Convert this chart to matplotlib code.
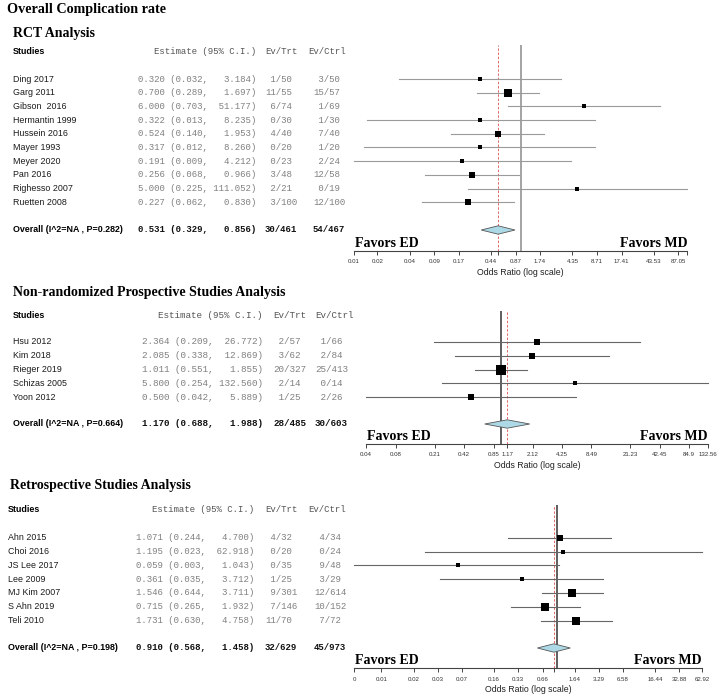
import matplotlib
matplotlib.use('Agg')
import matplotlib.pyplot as plt
from matplotlib.patches import Polygon
from matplotlib.ticker import NullLocator

# ---------------- data ----------------
rct_studies = ["Ding 2017", "Garg 2011", "Gibson  2016", "Hermantin 1999", "Hussein 2016",
               "Mayer 1993", "Meyer 2020", "Pan 2016", "Righesso 2007", "Ruetten 2008"]
rct_est = [0.320, 0.700, 6.000, 0.322, 0.524, 0.317, 0.191, 0.256, 5.000, 0.227]
rct_lo = [0.032, 0.289, 0.703, 0.013, 0.140, 0.012, 0.009, 0.068, 0.225, 0.062]
rct_hi = [3.184, 1.697, 51.177, 8.235, 1.953, 8.260, 4.212, 0.966, 111.052, 0.830]
rct_trt = ["1/50", "11/55", "6/74", "0/30", "4/40", "0/20", "0/23", "3/48", "2/21", "3/100"]
rct_ctrl = ["3/50", "15/57", "1/69", "1/30", "7/40", "1/20", "2/24", "12/58", "0/19", "12/100"]
rct_weight = [5, 8, 5, 4.3, 6.3, 4.3, 4, 6, 4.5, 6.3]
rct_overall = [0.531, 0.329, 0.856]
rct_overall_ev = ["30/461", "54/467"]
rct_overall_label = "Overall (I^2=NA , P=0.282)"
rct_tick_vals = [0.009, 0.0174, 0.0435, 0.087, 0.174, 0.435, 0.531, 0.87, 1.74, 4.35, 8.71,
                 17.41, 43.53, 87.05, 111.052]
rct_tick_labels = ["0.01", "0.02", "0.04", "0.09", "0.17", "0.44", "", "0.87", "1.74", "4.35",
                   "8.71", "17.41", "43.53", "87.05", ""]

pro_studies = ["Hsu 2012", "Kim 2018", "Rieger 2019", "Schizas 2005", "Yoon 2012"]
pro_est = [2.364, 2.085, 1.011, 5.800, 0.500]
pro_lo = [0.209, 0.338, 0.551, 0.254, 0.042]
pro_hi = [26.772, 12.869, 1.855, 132.560, 5.889]
pro_trt = ["2/57", "3/62", "20/327", "2/14", "1/25"]
pro_ctrl = ["1/66", "2/84", "25/413", "0/14", "2/26"]
pro_weight = [5.3, 6, 10.7, 4.7, 5.3]
pro_overall = [1.170, 0.688, 1.988]
pro_overall_ev = ["28/485", "30/603"]
pro_overall_label = "Overall (I^2=NA , P=0.664)"
pro_tick_vals = [0.042, 0.0849, 0.212, 0.4245, 0.849, 1.17, 2.1225, 4.245, 8.49, 21.225,
                 42.45, 84.9, 132.56]
pro_tick_labels = ["0.04", "0.08", "0.21", "0.42", "0.85", "1.17", "2.12", "4.25", "8.49",
                   "21.23", "42.45", "84.9", "132.56"]

ret_studies = ["Ahn 2015", "Choi 2016", "JS Lee 2017", "Lee 2009", "MJ Kim 2007",
               "S Ahn 2019", "Teli 2010"]
ret_est = [1.071, 1.195, 0.059, 0.361, 1.546, 0.715, 1.731]
ret_lo = [0.244, 0.023, 0.003, 0.035, 0.644, 0.265, 0.630]
ret_hi = [4.700, 62.918, 1.043, 3.712, 3.711, 1.932, 4.758]
ret_trt = ["4/32", "0/20", "0/35", "1/25", "9/301", "7/146", "11/70"]
ret_ctrl = ["4/34", "0/24", "9/48", "3/29", "12/614", "10/152", "7/72"]
ret_weight = [6, 4, 4.3, 5, 8, 7.3, 7.3]
ret_overall = [0.910, 0.568, 1.458]
ret_overall_ev = ["32/629", "45/973"]
ret_overall_label = "Overall (I^2=NA , P=0.198)"
ret_tick_vals = [0.003, 0.00658, 0.01645, 0.0329, 0.0658, 0.1645, 0.329, 0.658, 0.910,
                 1.645, 3.29, 6.58, 16.45, 32.9, 62.918]
ret_tick_labels = ["0", "0.01", "0.02", "0.03", "0.07", "0.16", "0.33", "0.66", "",
                   "1.64", "3.29", "6.58", "16.44", "32.88", "62.92"]

main_title = "Overall Complication rate"
section_titles = ["RCT Analysis", "Non-randomized Prospective Studies Analysis",
                  "Retrospective Studies Analysis"]

# ---------------- layout ----------------
W, H = 720, 698
fig = plt.figure(figsize=(7.2, 6.98), dpi=100)
SERIF = 'Liberation Serif'
SANS = 'Liberation Sans'
MONO = 'Liberation Mono'


def T(x, y, s, **kw):
    kw.setdefault('va', 'center')
    fig.text(x / W, 1 - y / H, s, **kw)


T(7, 10, main_title, family=SERIF, weight='bold', fontsize=10.2)

layouts = [
    dict(title=(13, 33), header=52, row0=79, dy=13.7, overall=230, name_x=13,
         est_r=256, trt_x=265, ctrl_x=313, head_trt=265, head_ctrl=308, mono=6.5,
         ax_x=354, ax_x1=687, ax_top=45, ax_y=250.7, vcol='#8a8a8a', cicol='#9a9a9a'),
    dict(title=(13, 293), header=315, row0=341.7, dy=13.9, overall=424, name_x=13,
         est_r=263, trt_x=273, ctrl_x=315, head_trt=273, head_ctrl=315.5, mono=6.7,
         ax_x=366, ax_x1=708, ax_top=311, ax_y=443.5, vcol='#333333', cicol='#666666'),
    dict(title=(10, 486), header=510, row0=537.7, dy=13.8, overall=648, name_x=8,
         est_r=254, trt_x=265, ctrl_x=314, head_trt=265, head_ctrl=308, mono=6.5,
         ax_x=354, ax_x1=702, ax_top=505, ax_y=668, vcol='#333333', cicol='#666666'),
]

datasets = [
    (rct_studies, rct_est, rct_lo, rct_hi, rct_trt, rct_ctrl, rct_weight, rct_overall,
     rct_overall_ev, rct_overall_label, rct_tick_vals, rct_tick_labels),
    (pro_studies, pro_est, pro_lo, pro_hi, pro_trt, pro_ctrl, pro_weight, pro_overall,
     pro_overall_ev, pro_overall_label, pro_tick_vals, pro_tick_labels),
    (ret_studies, ret_est, ret_lo, ret_hi, ret_trt, ret_ctrl, ret_weight, ret_overall,
     ret_overall_ev, ret_overall_label, ret_tick_vals, ret_tick_labels),
]


def ev_fmt(s):
    a, b = s.split('/')
    return f"{a:>2}/{b}"


for L, D, stitle in zip(layouts, datasets, section_titles):
    studies, est, lo, hi, trt, ctrl, wts, ov, ov_ev, ov_lab, tv, tl = D
    T(L['title'][0], L['title'][1], stitle, family=SERIF, weight='bold', fontsize=10)
    # header
    T(L['name_x'], L['header'], "Studies", family=SANS, weight='bold', fontsize=6.4)
    T(L['est_r'], L['header'], "Estimate (95% C.I.)", family=MONO, fontsize=L['mono'],
      ha='right', color='#555555')
    T(L['head_trt'], L['header'], "Ev/Trt", family=MONO, fontsize=L['mono'], color='#555555')
    T(L['head_ctrl'], L['header'], "Ev/Ctrl", family=MONO, fontsize=L['mono'], color='#555555')

    ys = [L['row0'] + i * L['dy'] for i in range(len(studies))]
    for y, nm, e, l, h, a, c in zip(ys, studies, est, lo, hi, trt, ctrl):
        T(L['name_x'], y, nm, family=SANS, fontsize=6.4, color='#1a1a1a')
        T(L['est_r'], y, f"{e:.3f} ({l:.3f}, {h:7.3f})", family=MONO,
          fontsize=L['mono'], ha='right', color='#808080')
        T(L['trt_x'], y, ev_fmt(a), family=MONO, fontsize=L['mono'], color='#808080')
        T(L['ctrl_x'], y, ev_fmt(c), family=MONO, fontsize=L['mono'], color='#808080')
    yo = L['overall']
    T(L['name_x'], yo, ov_lab, family=SANS, weight='bold', fontsize=6.4)
    T(L['est_r'], yo, f"{ov[0]:.3f} ({ov[1]:.3f}, {ov[2]:7.3f})", family=MONO,
      weight='bold', fontsize=L['mono'], ha='right', color='#111111')
    T(L['trt_x'], yo, ev_fmt(ov_ev[0]), family=MONO, weight='bold', fontsize=L['mono'],
      color='#111111')
    T(L['ctrl_x'], yo, ev_fmt(ov_ev[1]), family=MONO, weight='bold', fontsize=L['mono'],
      color='#111111')

    # forest axes (y in pixel units)
    x0, x1, top, axy = L['ax_x'], L['ax_x1'], L['ax_top'], L['ax_y']
    ax = fig.add_axes([x0 / W, 1 - axy / H, (x1 - x0) / W, (axy - top) / H])
    ax.patch.set_alpha(0)
    ax.set_xscale('log')
    ax.set_xlim(min(lo), max(hi))
    ax.set_ylim(axy, top)
    for s in ['top', 'left', 'right']:
        ax.spines[s].set_visible(False)
    ax.spines['bottom'].set_color('#444444')
    ax.spines['bottom'].set_linewidth(0.8)
    ax.set_yticks([])
    ax.set_xticks(tv)
    ax.set_xticklabels(tl)
    ax.xaxis.set_minor_locator(NullLocator())
    ax.tick_params(axis='x', length=3, width=0.7, labelsize=4.4, pad=3.2,
                   colors='#444444', labelcolor='#333333')
    for lab in ax.get_xticklabels():
        lab.set_family(SANS)

    ax.axvline(1, color=L['vcol'], lw=1.1, zorder=1)
    ax.axvline(ov[0], color='#e06666', lw=0.7, dashes=(2.5, 1.8), zorder=1)
    for y, e, l, h, w in zip(ys, est, lo, hi, wts):
        ax.plot([l, h], [y, y], color=L['cicol'], lw=0.8, zorder=2, clip_on=False)
        ax.plot([e], [y], marker='s', ms=w * 0.72, color='black', mew=0, zorder=3,
                clip_on=False)
    dh = 4.2
    diamond = Polygon([(ov[1], yo), (ov[0], yo - dh), (ov[2], yo), (ov[0], yo + dh)],
                      closed=True, facecolor='#add8e6', edgecolor='#555555', lw=0.6,
                      zorder=4)
    ax.add_patch(diamond)

    # favors & axis label
    T(x0 + 1, axy - 3.5, "Favors ED", family=SERIF, weight='bold', fontsize=10,
      va='baseline')
    T(x1, axy - 3.5, "Favors MD", family=SERIF, weight='bold', fontsize=10,
      va='baseline', ha='right')
    T((x0 + x1) / 2, axy + 22, "Odds Ratio (log scale)", family=SANS, fontsize=6.3,
      ha='center', color='#222222')

fig.savefig('out.png', dpi=100)
